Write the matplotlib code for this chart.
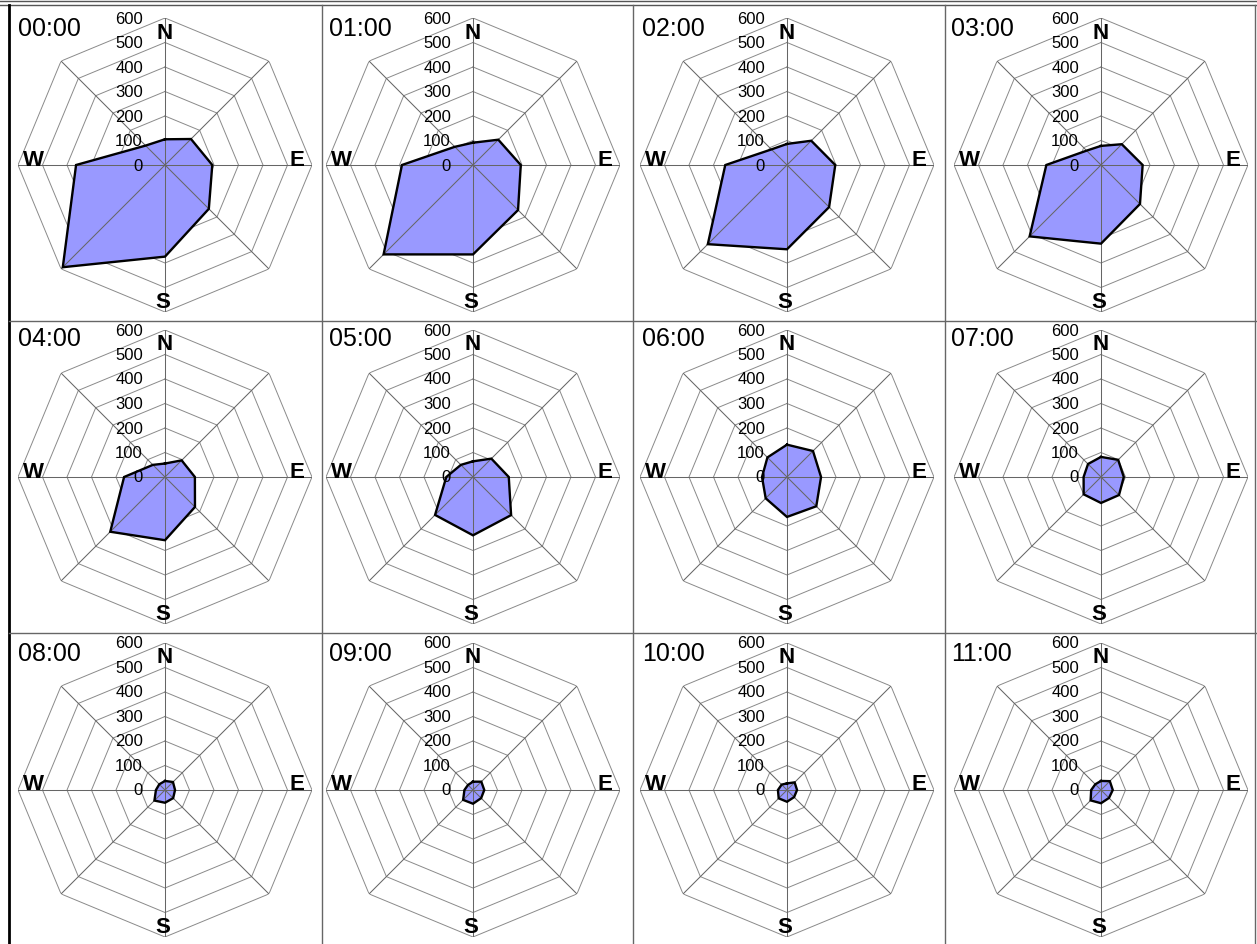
import numpy as np
import matplotlib
matplotlib.use("Agg")
import matplotlib.pyplot as plt
from matplotlib.lines import Line2D
from matplotlib.transforms import offset_copy

plt.rcParams["font.family"] = ["Liberation Sans", "DejaVu Sans"]

# Hourly wind-direction frequency (counts) for 8 compass sectors
directions = ["N", "NE", "E", "SE", "S", "SW", "W", "NW"]
hours = ["00:00", "01:00", "02:00", "03:00",
         "04:00", "05:00", "06:00", "07:00",
         "08:00", "09:00", "10:00", "11:00"]
ring_values = [0, 100, 200, 300, 400, 500, 600]
compass_labels = ["N", "E", "S", "W"]

h00 = [105, 150, 193, 253, 374, 590, 363, 112]
h01 = [91, 146, 195, 260, 365, 516, 290, 105]
h02 = [86, 140, 197, 243, 344, 457, 252, 90]
h03 = [78, 120, 170, 225, 321, 412, 223, 83]
h04 = [55, 96, 122, 173, 258, 316, 167, 70]
h05 = [64, 106, 146, 220, 238, 219, 109, 70]
h06 = [132, 150, 139, 169, 163, 123, 102, 113]
h07 = [82, 99, 93, 104, 106, 100, 71, 75]
h08 = [37, 46, 41, 47, 52, 61, 37, 33]
h09 = [34, 48, 46, 47, 56, 57, 35, 29]
h10 = [27, 44, 41, 41, 48, 48, 37, 31]
h11 = [37, 51, 48, 46, 54, 60, 40, 33]
series = [h00, h01, h02, h03, h04, h05, h06, h07, h08, h09, h10, h11]

W, H = 1257, 945
fig = plt.figure(figsize=(W / 100, H / 100), dpi=100)
fig.patch.set_facecolor("white")

col_cx = [165, 473, 787, 1101]
row_cy = [166, 478, 791]
R = 147
label_x = [18, 329, 642, 951]
label_top = [17, 327, 642]

theta = np.deg2rad(np.arange(0, 360, 45))
ring_col = "#8a8a8a"
spoke_col = "#666666"


def fig_line(xs, ys, color, lw):
    fig.add_artist(Line2D([x / W for x in xs], [1 - y / H for y in ys],
                          transform=fig.transFigure, color=color, lw=lw))


for i, (hour, vals) in enumerate(zip(hours, series)):
    r, c = divmod(i, 4)
    cx, cy = col_cx[c], row_cy[r]
    ax = fig.add_axes([(cx - R) / W, 1 - (cy + R) / H, 2 * R / W, 2 * R / H],
                      projection="polar")
    ax.set_theta_zero_location("N")
    ax.set_theta_direction(-1)
    ax.set_ylim(0, 600)
    ax.grid(False)
    ax.set_xticks([])
    ax.set_yticks([])
    ax.spines["polar"].set_visible(False)
    ax.patch.set_alpha(0)

    closed = np.append(theta, theta[0])
    for rv in ring_values[1:]:
        ax.plot(closed, [rv] * len(closed), color=ring_col, lw=0.7, zorder=1)

    ax.fill(theta, vals, facecolor="#9999ff", edgecolor="none", zorder=2)
    for t in theta:
        ax.plot([t, t], [0, 600], color=spoke_col, lw=0.75, zorder=3)
    ax.plot(closed, list(vals) + [vals[0]], color="black", lw=1.7,
            solid_joinstyle="miter", zorder=4)

    tick_tr = offset_copy(ax.transData, fig=fig, x=-22, y=0, units="dots")
    for rv in ring_values:
        ax.text(0, rv, str(rv), transform=tick_tr, ha="right", va="center",
                fontsize=12, color="black", zorder=5)

    offsets = {"N": (0, 133), "E": (132, 6), "S": (-2, -137), "W": (-132, 6)}
    for lab in compass_labels:
        dx, dy = offsets[lab]
        ax.text(0.5 + dx / (2 * R), 0.5 + dy / (2 * R), lab,
                transform=ax.transAxes, ha="center", va="center",
                fontsize=16, fontweight="bold", color="black", zorder=6)

    fig.text(label_x[c] / W, 1 - label_top[r] / H, hour, ha="left", va="top",
             fontsize=18, color="black")

# Cell borders
fig_line([0, W], [2, 2], "#555555", 1.0)
fig_line([0, W], [6, 6], "#555555", 1.0)
fig_line([9, 9], [6, H], "black", 2.0)
for x in (322, 633, 945):
    fig_line([x, x], [6, H], "#666666", 1.0)
fig_line([1255, 1255], [6, H], "#666666", 1.0)
for y in (322, 634):
    fig_line([9, W], [y, y], "#666666", 1.0)

fig.savefig("out.png", dpi=100, facecolor="white")
